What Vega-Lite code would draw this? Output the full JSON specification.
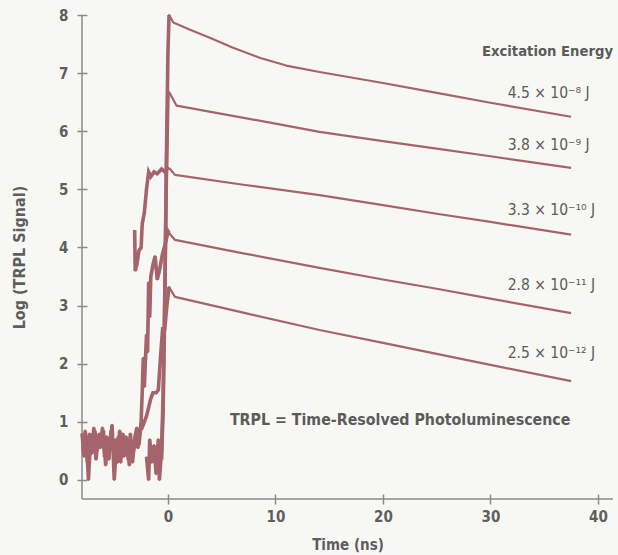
{
  "$schema": "https://vega.github.io/schema/vega-lite/v6.json",
  "width": 531,
  "height": 484,
  "autosize": {"type": "none"},
  "padding": {"left": 82, "top": 15, "right": 5, "bottom": 56},
  "background": "#f7f8f3",
  "config": {"view": {"stroke": null}, "font": "'DejaVu Sans Condensed', 'Liberation Sans Narrow', 'Liberation Sans', sans-serif"},
  "datasets": {
    "curves": [
      {"s": "a", "t": -1.0, "v": 0.2}, {"s": "a", "t": -0.8, "v": 0.6}, {"s": "a", "t": -0.6, "v": 0.35}, {"s": "a", "t": -0.45, "v": 1.2}, {"s": "a", "t": -0.3, "v": 3.0}, {"s": "a", "t": -0.15, "v": 5.5}, {"s": "a", "t": 0, "v": 7.4}, {"s": "a", "t": 0.1, "v": 8.0}, {"s": "a", "t": 0.5, "v": 7.87}, {"s": "a", "t": 2, "v": 7.75}, {"s": "a", "t": 4, "v": 7.6}, {"s": "a", "t": 6, "v": 7.44}, {"s": "a", "t": 8.6, "v": 7.26}, {"s": "a", "t": 11, "v": 7.13}, {"s": "a", "t": 14.1, "v": 7.02}, {"s": "a", "t": 20, "v": 6.83}, {"s": "a", "t": 25, "v": 6.66}, {"s": "a", "t": 30, "v": 6.49}, {"s": "a", "t": 37.5, "v": 6.25},
      {"s": "b", "t": -2.0, "v": 0.4}, {"s": "b", "t": -1.8, "v": 0.0}, {"s": "b", "t": -1.7, "v": 0.7}, {"s": "b", "t": -1.5, "v": 0.3}, {"s": "b", "t": -1.3, "v": 0.6}, {"s": "b", "t": -1.1, "v": 0.1}, {"s": "b", "t": -0.9, "v": 0.7}, {"s": "b", "t": -0.8, "v": 0.0}, {"s": "b", "t": -0.6, "v": 0.5}, {"s": "b", "t": -0.45, "v": 1.5}, {"s": "b", "t": -0.3, "v": 3.2}, {"s": "b", "t": -0.15, "v": 5.2}, {"s": "b", "t": 0, "v": 6.68}, {"s": "b", "t": 0.15, "v": 6.66}, {"s": "b", "t": 0.8, "v": 6.44}, {"s": "b", "t": 5, "v": 6.3}, {"s": "b", "t": 10, "v": 6.13}, {"s": "b", "t": 14.1, "v": 5.99}, {"s": "b", "t": 20, "v": 5.83}, {"s": "b", "t": 25, "v": 5.7}, {"s": "b", "t": 30, "v": 5.57}, {"s": "b", "t": 37.5, "v": 5.37},
      {"s": "c", "t": -3.1, "v": 4.3}, {"s": "c", "t": -3.05, "v": 3.6}, {"s": "c", "t": -2.9, "v": 3.7}, {"s": "c", "t": -2.7, "v": 3.95}, {"s": "c", "t": -2.5, "v": 4.0}, {"s": "c", "t": -2.4, "v": 4.4}, {"s": "c", "t": -2.2, "v": 4.6}, {"s": "c", "t": -2.0, "v": 5.0}, {"s": "c", "t": -1.8, "v": 5.3}, {"s": "c", "t": -1.6, "v": 5.22}, {"s": "c", "t": -1.3, "v": 5.3}, {"s": "c", "t": -1.0, "v": 5.27}, {"s": "c", "t": -0.6, "v": 5.35}, {"s": "c", "t": -0.3, "v": 5.3}, {"s": "c", "t": 0, "v": 5.37}, {"s": "c", "t": 0.2, "v": 5.35}, {"s": "c", "t": 0.65, "v": 5.25}, {"s": "c", "t": 7, "v": 5.08}, {"s": "c", "t": 14.1, "v": 4.9}, {"s": "c", "t": 20, "v": 4.73}, {"s": "c", "t": 25, "v": 4.58}, {"s": "c", "t": 30, "v": 4.44}, {"s": "c", "t": 37.5, "v": 4.22},
      {"s": "d", "t": -7.9, "v": 0.5}, {"s": "d", "t": -7.7, "v": 0.85}, {"s": "d", "t": -7.5, "v": 0.3}, {"s": "d", "t": -7.3, "v": 0.8}, {"s": "d", "t": -7.1, "v": 0.45}, {"s": "d", "t": -6.9, "v": 0.9}, {"s": "d", "t": -6.7, "v": 0.35}, {"s": "d", "t": -6.5, "v": 0.7}, {"s": "d", "t": -6.3, "v": 0.55}, {"s": "d", "t": -6.1, "v": 0.9}, {"s": "d", "t": -5.9, "v": 0.4}, {"s": "d", "t": -5.7, "v": 0.75}, {"s": "d", "t": -5.5, "v": 0.35}, {"s": "d", "t": -5.3, "v": 0.85}, {"s": "d", "t": -5.1, "v": 0.5}, {"s": "d", "t": -4.9, "v": 0.7}, {"s": "d", "t": -4.7, "v": 0.3}, {"s": "d", "t": -4.5, "v": 0.85}, {"s": "d", "t": -4.3, "v": 0.6}, {"s": "d", "t": -4.1, "v": 0.4}, {"s": "d", "t": -3.9, "v": 0.75}, {"s": "d", "t": -3.7, "v": 0.35}, {"s": "d", "t": -3.5, "v": 0.8}, {"s": "d", "t": -3.3, "v": 0.3}, {"s": "d", "t": -3.1, "v": 0.7}, {"s": "d", "t": -2.9, "v": 0.9}, {"s": "d", "t": -2.7, "v": 0.6}, {"s": "d", "t": -2.5, "v": 1.0},
      {"s": "d", "t": -2.4, "v": 1.5}, {"s": "d", "t": -2.3, "v": 2.1}, {"s": "d", "t": -2.2, "v": 1.6}, {"s": "d", "t": -2.0, "v": 2.5}, {"s": "d", "t": -1.9, "v": 2.2}, {"s": "d", "t": -1.8, "v": 3.4}, {"s": "d", "t": -1.7, "v": 2.8}, {"s": "d", "t": -1.6, "v": 3.5}, {"s": "d", "t": -1.4, "v": 3.7}, {"s": "d", "t": -1.2, "v": 3.85}, {"s": "d", "t": -1.0, "v": 3.45}, {"s": "d", "t": -0.8, "v": 3.6}, {"s": "d", "t": -0.5, "v": 3.9}, {"s": "d", "t": -0.2, "v": 4.1}, {"s": "d", "t": 0, "v": 4.28}, {"s": "d", "t": 0.1, "v": 4.25}, {"s": "d", "t": 0.65, "v": 4.13}, {"s": "d", "t": 7, "v": 3.9}, {"s": "d", "t": 14.1, "v": 3.65}, {"s": "d", "t": 20, "v": 3.45}, {"s": "d", "t": 25, "v": 3.29}, {"s": "d", "t": 30, "v": 3.12}, {"s": "d", "t": 37.5, "v": 2.87},
      {"s": "e", "t": -8.0, "v": 0.8}, {"s": "e", "t": -7.8, "v": 0.4}, {"s": "e", "t": -7.6, "v": 0.75}, {"s": "e", "t": -7.4, "v": 0.0}, {"s": "e", "t": -7.2, "v": 0.7}, {"s": "e", "t": -7.0, "v": 0.55}, {"s": "e", "t": -6.8, "v": 0.85}, {"s": "e", "t": -6.6, "v": 0.5}, {"s": "e", "t": -6.4, "v": 0.8}, {"s": "e", "t": -6.2, "v": 0.6}, {"s": "e", "t": -6.0, "v": 0.85}, {"s": "e", "t": -5.8, "v": 0.25}, {"s": "e", "t": -5.6, "v": 0.7}, {"s": "e", "t": -5.4, "v": 0.6}, {"s": "e", "t": -5.2, "v": 0.95}, {"s": "e", "t": -5.0, "v": 0.0}, {"s": "e", "t": -4.8, "v": 0.6}, {"s": "e", "t": -4.6, "v": 0.75}, {"s": "e", "t": -4.4, "v": 0.3}, {"s": "e", "t": -4.2, "v": 0.8}, {"s": "e", "t": -4.0, "v": 0.5}, {"s": "e", "t": -3.8, "v": 0.7}, {"s": "e", "t": -3.6, "v": 0.25}, {"s": "e", "t": -3.4, "v": 0.65}, {"s": "e", "t": -3.2, "v": 0.5}, {"s": "e", "t": -3.0, "v": 0.8}, {"s": "e", "t": -2.8, "v": 0.55}, {"s": "e", "t": -2.6, "v": 0.85},
      {"s": "e", "t": -2.4, "v": 0.9}, {"s": "e", "t": -2.2, "v": 1.0}, {"s": "e", "t": -2.0, "v": 1.1}, {"s": "e", "t": -1.8, "v": 1.25}, {"s": "e", "t": -1.6, "v": 1.4}, {"s": "e", "t": -1.4, "v": 1.5}, {"s": "e", "t": -1.1, "v": 1.5}, {"s": "e", "t": -0.9, "v": 1.55}, {"s": "e", "t": -0.7, "v": 2.1}, {"s": "e", "t": -0.5, "v": 2.6}, {"s": "e", "t": -0.3, "v": 2.6}, {"s": "e", "t": -0.1, "v": 3.0}, {"s": "e", "t": 0.1, "v": 3.32}, {"s": "e", "t": 0.65, "v": 3.15}, {"s": "e", "t": 7, "v": 2.88}, {"s": "e", "t": 14.1, "v": 2.58}, {"s": "e", "t": 20, "v": 2.36}, {"s": "e", "t": 25, "v": 2.17}, {"s": "e", "t": 30, "v": 1.98}, {"s": "e", "t": 37.5, "v": 1.70}
    ]
  },
  "encoding": {
    "x": {"field": "t", "type": "quantitative", "scale": {"domain": [-8, 41.4], "nice": false, "zero": false}},
    "y": {"field": "v", "type": "quantitative", "scale": {"domain": [-0.327, 8], "nice": false, "zero": false}}
  },
  "layer": [
    {
      "data": {"values": [{"t": -8, "v": -0.327, "v2": 8}]},
      "mark": {"type": "rule", "color": "#8a8a8a", "strokeWidth": 1.5},
      "encoding": {
        "x": {"field": "t", "type": "quantitative", "axis": {"values": [0, 10, 20, 30, 40], "format": "d", "title": "Time (ns)", "domain": false, "grid": false, "offset": -5, "tickSize": 10, "tickColor": "#8a8a8a", "tickWidth": 1.5, "labelFontSize": 15, "labelFontWeight": "bold", "labelColor": "#5e5e5e", "labelPadding": 5, "titleFontSize": 15, "titleFontWeight": "bold", "titleColor": "#5e5e5e", "titlePadding": 13}},
        "y": {"field": "v", "type": "quantitative", "axis": {"values": [0, 1, 2, 3, 4, 5, 6, 7, 8], "format": "d", "title": "Log (TRPL Signal)", "domain": false, "grid": false, "offset": -5, "tickSize": 10, "tickColor": "#8a8a8a", "tickWidth": 1.5, "labelFontSize": 15, "labelFontWeight": "bold", "labelColor": "#5e5e5e", "labelPadding": 9, "titleFontSize": 16, "titleFontWeight": "bold", "titleColor": "#5e5e5e", "titlePadding": 31}},
        "y2": {"field": "v2"}
      }
    },
    {
      "data": {"values": [{"t": -8, "t2": 41.4, "v": -0.327}]},
      "mark": {"type": "rule", "color": "#8a8a8a", "strokeWidth": 1.5},
      "encoding": {"x2": {"field": "t2"}}
    },
    {
      "data": {"name": "curves"},
      "mark": {"type": "line", "color": "#a5646c", "strokeWidth": 2.2, "strokeJoin": "round"},
      "encoding": {"detail": {"field": "s"}}
    },
    {
      "data": {"name": "curves"},
      "transform": [{"filter": "datum.t <= 0.1"}],
      "mark": {"type": "line", "color": "#a5646c", "strokeWidth": 3.6, "strokeJoin": "miter"},
      "encoding": {"detail": {"field": "s"}}
    },
    {
      "data": {"values": [
        {"t": 31.6, "v": 6.66, "label": "4.5 × 10⁻⁸ J"},
        {"t": 31.6, "v": 5.77, "label": "3.8 × 10⁻⁹ J"},
        {"t": 31.6, "v": 4.65, "label": "3.3 × 10⁻¹⁰ J"},
        {"t": 31.6, "v": 3.36, "label": "2.8 × 10⁻¹¹ J"},
        {"t": 31.6, "v": 2.19, "label": "2.5 × 10⁻¹² J"}
      ]},
      "mark": {"type": "text", "align": "left", "baseline": "middle", "fontSize": 15.5, "color": "#5b5b5b"},
      "encoding": {"text": {"field": "label"}}
    },
    {
      "data": {"values": [{"t": 41.4, "v": 7.37, "label": "Excitation Energy"}]},
      "mark": {"type": "text", "align": "right", "baseline": "middle", "fontSize": 14.7, "fontWeight": "bold", "color": "#5b5b5b"},
      "encoding": {"text": {"field": "label"}}
    },
    {
      "data": {"values": [{"t": 21.6, "v": 1.03, "label": "TRPL = Time-Resolved Photoluminescence"}]},
      "mark": {"type": "text", "align": "center", "baseline": "middle", "fontSize": 15.8, "fontWeight": "bold", "color": "#5b5b5b"},
      "encoding": {"text": {"field": "label"}}
    }
  ]
}
